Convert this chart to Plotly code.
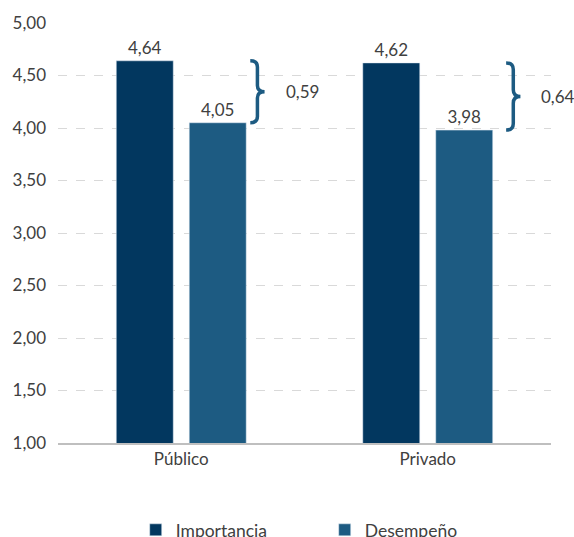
import plotly.graph_objects as go

categories = ["Público", "Privado"]
importancia = [4.64, 4.62]
desempeno = [4.05, 3.98]
y_ticks = [1.0, 1.5, 2.0, 2.5, 3.0, 3.5, 4.0, 4.5, 5.0]

C_IMP = "#02375F"
C_DES = "#1D5B82"
TXT = "#404040"
FONT = "Lato"
FS = 17

fig = go.Figure()
fig.add_trace(go.Bar(name="Importancia", x=categories, y=importancia, marker_color=C_IMP,
                     texttemplate="%{y:.2f}", textposition="outside", cliponaxis=False,
                     textfont=dict(size=FS, color=TXT, family=FONT)))
fig.add_trace(go.Bar(name="Desempeño", x=categories, y=desempeno, marker_color=C_DES,
                     texttemplate="%{y:.2f}", textposition="outside", cliponaxis=False,
                     textfont=dict(size=FS, color=TXT, family=FONT)))

brace_left = [0.28, 0.318]
brace_w = 0.058
label_off = [0.415, 0.452]


def brace_path(x0, w, ytop, ybot):
    h = ytop - ybot
    xm = x0 + w * 0.5
    ym = (ytop + ybot) / 2
    r = h * 0.1
    return (f"M {x0},{ytop} Q {xm},{ytop} {xm},{ytop - r} "
            f"L {xm},{ym + r} Q {xm},{ym} {x0 + w},{ym} "
            f"Q {xm},{ym} {xm},{ym - r} "
            f"L {xm},{ybot + r} Q {xm},{ybot} {x0},{ybot}")


for i, cat in enumerate(categories):
    top, bot = importancia[i], desempeno[i]
    fig.add_shape(type="path", xref="x", yref="y",
                  path=brace_path(i + brace_left[i], brace_w, top, bot),
                  line=dict(color=C_DES, width=3.5))
    diff = top - bot
    fig.add_annotation(x=i + label_off[i], y=(top + bot) / 2, xref="x", yref="y",
                       text=f"{diff:.2f}".replace(".", ","), showarrow=False,
                       xanchor="left", yanchor="middle",
                       font=dict(size=FS, color=TXT, family=FONT))

fig.update_layout(
    width=574, height=537,
    margin=dict(l=58, r=23, t=23, b=94, autoexpand=False),
    plot_bgcolor="white", paper_bgcolor="white",
    separators=",.",
    barmode="group", bargap=0.408, bargroupgap=0.219,
    font=dict(family=FONT, size=FS, color=TXT),
    showlegend=True,
    legend=dict(orientation="h", x=0.541, xanchor="center", y=-0.207, yanchor="middle",
                font=dict(size=17.5, color=TXT, family=FONT), entrywidth=144,
                entrywidthmode="pixels"),
)
fig.update_yaxes(range=[1, 5], tickvals=y_ticks, tickformat=".2f",
                 showgrid=True, gridcolor="#D9D9D9", griddash="dash", gridwidth=1,
                 zeroline=False, showline=False, ticks="", ticklabelstandoff=11,
                 tickfont=dict(size=FS, color=TXT, family=FONT))
fig.update_xaxes(range=[-0.5, len(categories) - 0.5], showline=True,
                 linecolor="#BFBFBF", linewidth=1.5, ticks="",
                 tickfont=dict(size=FS, color=TXT, family=FONT))

fig.write_html("out.html")
